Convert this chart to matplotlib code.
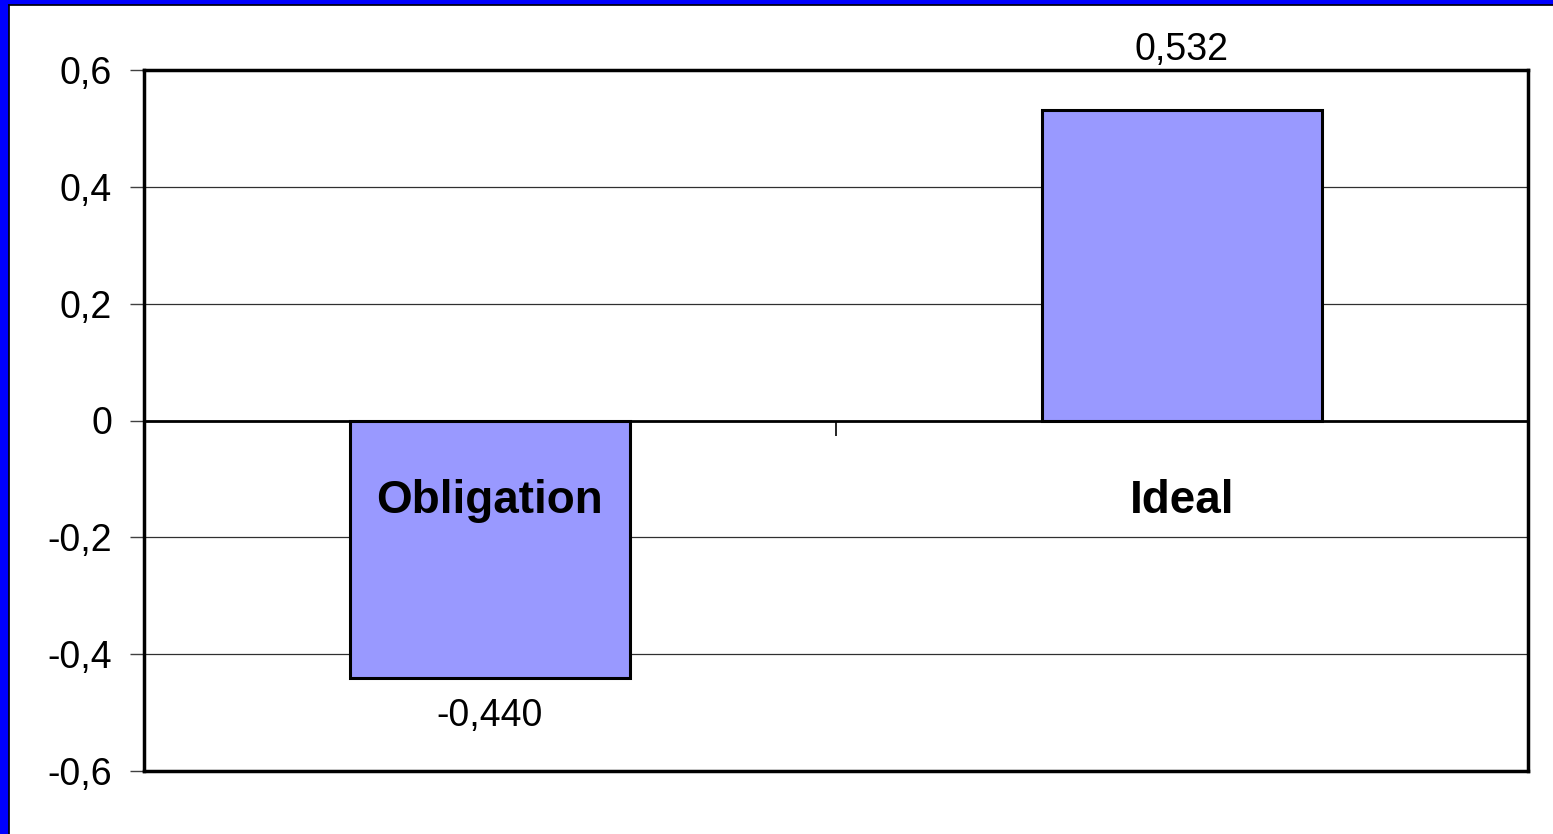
import matplotlib; matplotlib.use("Agg")
import matplotlib.pyplot as plt
from matplotlib.patches import Rectangle
from matplotlib.ticker import FuncFormatter

categories=["Obligation","Ideal"]
values=[-0.440,0.532]
value_labels=["-0,440","0,532"]
yticks=[-0.6,-0.4,-0.2,0,0.2,0.4,0.6]

plt.rcParams['font.family']=['Liberation Sans','DejaVu Sans']
W,H=1553,834
fig=plt.figure(figsize=(W/100,H/100),dpi=100)
# blue frame on left and top edges, with thin black inner line
fig.patches.append(Rectangle((0,0),8/W,1,transform=fig.transFigure,color="#0000FF",zorder=0))
fig.patches.append(Rectangle((0,1-4/H),1,4/H,transform=fig.transFigure,color="#0000FF",zorder=0))
fig.add_artist(plt.Line2D([8.5/W,8.5/W],[0,1-4.5/H],transform=fig.transFigure,color="black",lw=1.2))
fig.add_artist(plt.Line2D([8.5/W,1],[1-4.5/H,1-4.5/H],transform=fig.transFigure,color="black",lw=1.2))

ax=fig.add_axes([144/W,(H-771)/H,(1528-144)/W,(771-70)/H])
x=range(len(categories))
ax.bar(x,values,width=0.405,color="#9999FF",edgecolor="black",linewidth=2.2,zorder=3)
ax.set_xlim(-0.5,1.5); ax.set_ylim(-0.6,0.6)
ax.set_yticks(yticks)
ax.yaxis.set_major_formatter(FuncFormatter(lambda v,p:("%g"%round(v,1)).replace(".",",")))
ax.tick_params(axis="y",labelsize=27,length=10,width=1,pad=13,color="#404040")
ax.set_xticks([])
for v in yticks[1:-1]:
    ax.axhline(v,color="black" if v==0 else "#303030",lw=2 if v==0 else 0.9,zorder=1 if v else 4)
for s in ax.spines.values(): s.set_linewidth(2.5)
# category boundary tick on the zero line, pointing down
sec=ax.secondary_xaxis(0.5)
sec.set_xticks([0.5]); sec.set_xticklabels([""])
sec.xaxis.set_ticks_position("bottom")
sec.tick_params(length=11,width=1.2,direction="out")
for s in sec.spines.values(): s.set_visible(False)
for i,(c,v,l) in enumerate(zip(categories,values,value_labels)):
    ax.text(i,-0.137,c,ha="center",va="center",fontsize=33,fontweight="bold",zorder=5)
    ax.annotate(l,(i,v),xytext=(0,43 if v>0 else -28),textcoords="offset points",
                ha="center",va="center",fontsize=27,annotation_clip=False)
fig.savefig("out.png",dpi=100)
